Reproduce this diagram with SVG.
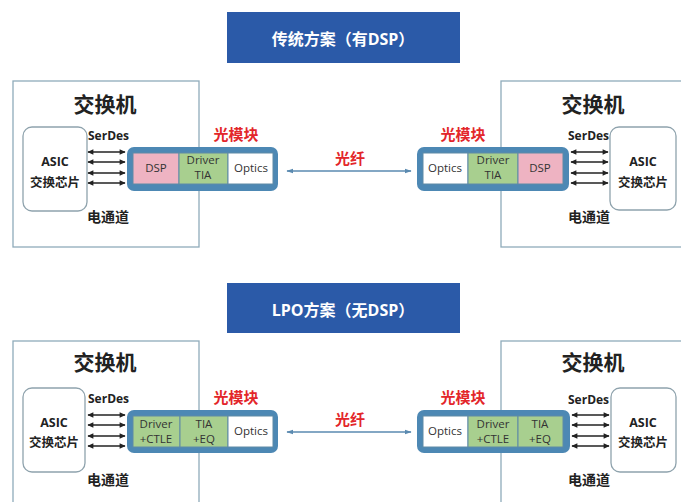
<svg xmlns="http://www.w3.org/2000/svg" width="681" height="502" viewBox="0 0 681 502">
<defs>
<marker id="ah" viewBox="0 0 10 10" refX="9" refY="5" markerWidth="7" markerHeight="6" markerUnits="userSpaceOnUse" orient="auto-start-reverse"><path d="M0,0.5 L10,5 L0,9.5 z" fill="#222"/></marker>
<marker id="fh" viewBox="0 0 10 10" refX="9" refY="5" markerWidth="7" markerHeight="7" markerUnits="userSpaceOnUse" orient="auto-start-reverse"><path d="M0,1.5 L10,5 L0,8.5 z" fill="#5a8ab0"/></marker>
</defs>
<style>
.title{fill:#2b5aa8}
.tt{font-family:"Open Sans","Noto Sans CJK SC",sans-serif;font-weight:bold;font-size:16px;fill:#fff;text-anchor:middle}
.sw{fill:#fff;stroke:#8fabba;stroke-width:1.3}
.asic{fill:#fff;stroke:#8fa3ad;stroke-width:1.3}
.h1{font-family:"Noto Sans CJK SC",sans-serif;font-weight:bold;font-size:21px;fill:#222;text-anchor:middle}
.h2{font-family:"Noto Sans CJK SC",sans-serif;font-weight:bold;font-size:14px;fill:#222;text-anchor:middle}
.red{font-family:"Noto Sans CJK SC",sans-serif;font-weight:bold;font-size:15px;fill:#e3262a;text-anchor:middle}
.b{font-family:"Open Sans","Noto Sans CJK SC",sans-serif;font-weight:bold;font-size:12px;fill:#222}
.bc{font-family:"Open Sans","Noto Sans CJK SC",sans-serif;font-weight:bold;font-size:12.5px;fill:#222;text-anchor:middle}
.cn{font-family:"Noto Sans CJK SC",sans-serif;font-weight:bold;font-size:12.5px;fill:#222;text-anchor:middle}
.cell{font-family:"Open Sans",sans-serif;font-size:11.5px;fill:#333;text-anchor:middle}
.mod{fill:#4d88b4}
.dsp{fill:#eeb3c2;stroke:#5f8aa6;stroke-width:1}
.grn{fill:#a8cf8f;stroke:#5f8aa6;stroke-width:1}
.opt{fill:#fff;stroke:#5f8aa6;stroke-width:1}
.ser{stroke:#222;stroke-width:1.3;fill:none;marker-start:url(#ah);marker-end:url(#ah)}
.fib{stroke:#5a8ab0;stroke-width:1.3;fill:none;marker-start:url(#fh);marker-end:url(#fh)}
</style>

<g id="title-top"><rect class="title" x="227" y="12" width="233" height="51"/><text class="tt" x="343" y="45">传统方案（有DSP）</text></g>
<g id="title-bottom"><rect class="title" x="227" y="283" width="233" height="50"/><text class="tt" x="343" y="316">LPO方案（无DSP）</text></g>

<!-- Top left switch -->
<g id="switch-tl"><rect class="sw" x="13" y="81" width="186" height="166"/><text class="h1" x="105" y="112">交换机</text></g>
<g id="asic-tl"><rect class="asic" x="23" y="127" width="64" height="84" rx="9"/><text class="bc" x="55" y="166">ASIC</text><text class="cn" x="55" y="187">交换芯片</text></g>
<text class="b" x="88" y="140">SerDes</text>
<text class="h2" x="108" y="222">电通道</text>
<g id="module-tl"><rect class="mod" x="127" y="147" width="151" height="44" rx="7"/>
<rect class="dsp" x="133" y="153" width="46" height="31"/><rect class="grn" x="179" y="153" width="49" height="31"/><rect class="opt" x="228" y="153" width="45" height="31"/>
<text class="cell" x="156" y="172">DSP</text><text class="cell" x="203" y="164">Driver</text><text class="cell" x="203" y="179">TIA</text><text class="cell" x="251" y="172">Optics</text></g>
<text class="red" x="236" y="140">光模块</text>

<!-- Top right switch -->
<g id="switch-tr"><rect class="sw" x="501" y="81" width="200" height="166"/><text class="h1" x="593" y="112">交换机</text></g>
<g id="asic-tr"><rect class="asic" x="610" y="127" width="66" height="83" rx="9"/><text class="bc" x="643" y="166">ASIC</text><text class="cn" x="643" y="187">交换芯片</text></g>
<text class="b" x="568" y="140">SerDes</text>
<text class="h2" x="589" y="222">电通道</text>
<g id="module-tr"><rect class="mod" x="417" y="147" width="152" height="44" rx="7"/>
<rect class="opt" x="423" y="153" width="45" height="31"/><rect class="grn" x="468" y="153" width="50" height="31"/><rect class="dsp" x="518" y="153" width="45" height="31"/>
<text class="cell" x="445" y="172">Optics</text><text class="cell" x="493" y="164">Driver</text><text class="cell" x="493" y="179">TIA</text><text class="cell" x="540" y="172">DSP</text></g>
<text class="red" x="463" y="140">光模块</text>
<text class="red" x="350" y="164">光纤</text>

<!-- Bottom left switch -->
<g id="switch-bl"><rect class="sw" x="13" y="341" width="186" height="170"/><text class="h1" x="105" y="370">交换机</text></g>
<g id="asic-bl"><rect class="asic" x="23" y="388" width="62" height="84" rx="9"/><text class="bc" x="54" y="427">ASIC</text><text class="cn" x="54" y="447">交换芯片</text></g>
<text class="b" x="88" y="403">SerDes</text>
<text class="h2" x="108" y="485">电通道</text>
<g id="module-bl"><rect class="mod" x="127" y="410" width="151" height="43" rx="7"/>
<rect class="grn" x="133" y="416" width="47" height="31"/><rect class="grn" x="180" y="416" width="48" height="31"/><rect class="opt" x="228" y="416" width="45" height="31"/>
<text class="cell" x="156" y="428">Driver</text><text class="cell" x="156" y="443">+CTLE</text><text class="cell" x="204" y="428">TIA</text><text class="cell" x="204" y="443">+EQ</text><text class="cell" x="251" y="435">Optics</text></g>
<text class="red" x="236" y="403">光模块</text>

<!-- Bottom right switch -->
<g id="switch-br"><rect class="sw" x="501" y="341" width="200" height="170"/><text class="h1" x="593" y="370">交换机</text></g>
<g id="asic-br"><rect class="asic" x="611" y="388" width="65" height="84" rx="9"/><text class="bc" x="643" y="427">ASIC</text><text class="cn" x="643" y="447">交换芯片</text></g>
<text class="b" x="568" y="404">SerDes</text>
<text class="h2" x="589" y="485">电通道</text>
<g id="module-br"><rect class="mod" x="417" y="410" width="153" height="43" rx="7"/>
<rect class="opt" x="423" y="416" width="45" height="31"/><rect class="grn" x="468" y="416" width="50" height="31"/><rect class="grn" x="518" y="416" width="45" height="31"/>
<text class="cell" x="445" y="435">Optics</text><text class="cell" x="493" y="428">Driver</text><text class="cell" x="493" y="443">+CTLE</text><text class="cell" x="540" y="428">TIA</text><text class="cell" x="540" y="443">+EQ</text></g>
<text class="red" x="463" y="403">光模块</text>
<text class="red" x="350" y="425">光纤</text>

<g id="connectors">
<line class="ser" x1="88" y1="152" x2="125" y2="152"/><line class="ser" x1="88" y1="162" x2="125" y2="162"/><line class="ser" x1="88" y1="173" x2="125" y2="173"/><line class="ser" x1="88" y1="183" x2="125" y2="183"/>
<line class="ser" x1="571" y1="152" x2="608" y2="152"/><line class="ser" x1="571" y1="162" x2="608" y2="162"/><line class="ser" x1="571" y1="173" x2="608" y2="173"/><line class="ser" x1="571" y1="183" x2="608" y2="183"/>
<line class="ser" x1="88" y1="415" x2="125" y2="415"/><line class="ser" x1="88" y1="425" x2="125" y2="425"/><line class="ser" x1="88" y1="436" x2="125" y2="436"/><line class="ser" x1="88" y1="446" x2="125" y2="446"/>
<line class="ser" x1="572" y1="415" x2="609" y2="415"/><line class="ser" x1="572" y1="425" x2="609" y2="425"/><line class="ser" x1="572" y1="436" x2="609" y2="436"/><line class="ser" x1="572" y1="446" x2="609" y2="446"/>
<line class="fib" x1="287" y1="171" x2="411" y2="171"/>
<line class="fib" x1="287" y1="432" x2="411" y2="432"/>
</g>
</svg>
